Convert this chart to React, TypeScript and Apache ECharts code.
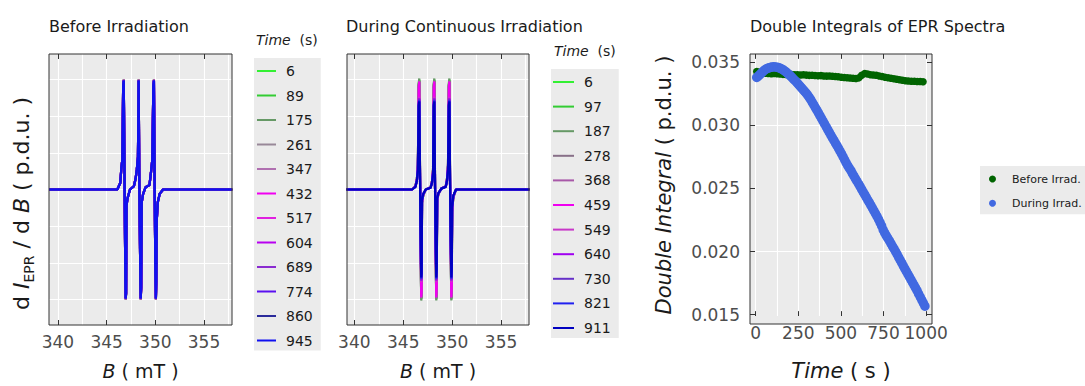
import React, { useEffect, useRef } from 'react';
import * as echarts from 'echarts';

const FONT = 'DejaVu Sans';

// ---------- Panel 1: spectra before irradiation ----------
const beforeTimes = ['6', '89', '175', '261', '347', '432', '517', '604', '689', '774', '860', '945'];
const beforeColors = ['#33F033', '#33CC33', '#669966', '#988898', '#B070B0', '#F000F0', '#E020E0', '#B800F0', '#8A2BD0', '#5A10F0', '#2B2B9B', '#1010F0'];
const beforeAmp = [1.0, 1.0, 1.0, 0.995, 0.995, 1.0, 0.995, 0.99, 0.99, 0.99, 0.99, 0.99];
const beforeB = [339.1, 346.1, 346.4, 346.52, 346.62, 346.7, 346.76, 346.84, 346.9, 346.96, 347.0, 347.04, 347.15, 347.4, 347.8,
  347.98, 348.1, 348.22, 348.29, 348.36, 348.44, 348.5, 348.55, 348.6, 348.75, 349.0, 349.4,
  349.55, 349.7, 349.8, 349.86, 349.93, 350.0, 350.06, 350.1, 350.14, 350.25, 350.45, 350.8, 357.9];
const beforeI = [0, 0, 0.06, 0.2, 0.28, 0.95, 1.0, 0.1, -0.55, -1.0, -0.95, -0.15, -0.08, 0, 0.03,
  0.1, 0.18, 0.3, 1.0, 0.05, -0.6, -1.0, -0.9, -0.12, -0.04, 0.02, 0.04,
  0.15, 0.28, 0.95, 1.0, 0.05, -0.65, -1.0, -0.85, -0.3, -0.12, -0.04, 0, 0];

// ---------- Panel 2: spectra during irradiation ----------
const duringTimes = ['6', '97', '187', '278', '368', '459', '549', '640', '730', '821', '911'];
const duringColors = ['#33F033', '#33CC33', '#669966', '#887088', '#A858A8', '#F000F0', '#C838C8', '#A000F0', '#6630C8', '#2020F0', '#0000C0'];
const duringAmp = [1.0, 0.99, 1.01, 0.99, 0.985, 0.98, 0.84, 0.83, 0.82, 0.81, 0.8];
const duringB = [339.2, 345.9, 346.25, 346.4, 346.5, 346.58, 346.64, 346.72, 346.78, 346.84, 346.88, 346.92, 347.05, 347.3, 347.8,
  347.95, 348.05, 348.12, 348.18, 348.25, 348.32, 348.38, 348.42, 348.47, 348.6, 348.9, 349.35,
  349.48, 349.58, 349.66, 349.72, 349.79, 349.86, 349.92, 349.96, 350.0, 350.12, 350.4, 357.9];
const duringI = [0, 0, 0.03, 0.1, 0.22, 0.95, 1.0, 0.1, -0.55, -1.0, -0.95, -0.12, -0.05, 0, 0.02,
  0.08, 0.18, 0.95, 1.0, 0.05, -0.6, -1.0, -0.9, -0.1, -0.04, 0.01, 0.03,
  0.1, 0.22, 0.95, 1.0, 0.05, -0.6, -1.0, -0.9, -0.2, -0.07, 0, 0];

const fieldTicks = [340, 345, 350, 355];
const fieldGrid = [340, 342.5, 345, 347.5, 350, 352.5, 355, 357.5];
const intensityGrid = [-1, -0.6667, -0.3333, 0, 0.3333, 0.6667, 1];

// ---------- Panel 3: double integrals ----------
const beforeT = [6, 23, 40, 57, 74, 92, 109, 126, 143, 160, 177, 194, 211, 229, 246, 263, 280, 297, 314, 331, 348, 366, 383, 400,
  417, 434, 451, 468, 485, 503, 520, 537, 554, 571, 588, 605, 622, 640, 657, 674, 691, 708, 725, 742, 759, 777, 794, 811,
  828, 845, 862, 879, 896, 914, 931, 948, 965, 982];
const beforeDI = [0.03425, 0.0342, 0.03415, 0.03412, 0.0341, 0.03408, 0.0341, 0.03408, 0.03405, 0.03403, 0.03402, 0.03404,
  0.03402, 0.034, 0.034, 0.03398, 0.034, 0.03397, 0.03395, 0.03396, 0.03394, 0.03392, 0.03393, 0.0339, 0.03389, 0.0339,
  0.03388, 0.03386, 0.03384, 0.0338, 0.03378, 0.03376, 0.03374, 0.03372, 0.0337, 0.03375, 0.03395, 0.0341, 0.03405,
  0.034, 0.03398, 0.03396, 0.0339, 0.03386, 0.0338, 0.03376, 0.03372, 0.03368, 0.03364, 0.0336, 0.03356, 0.03352,
  0.0335, 0.03348, 0.03348, 0.03346, 0.03346, 0.03344];
const duringT = [6, 15, 24, 33, 42, 51, 60, 69, 78, 88, 97, 106, 115, 124, 133, 142, 151, 160, 169, 178, 187, 196, 205, 214,
  223, 233, 242, 251, 260, 269, 278, 287, 296, 305, 314, 323, 332, 341, 350, 359, 368, 377, 386, 395, 404, 414, 423, 432,
  441, 450, 459, 468, 477, 486, 495, 504, 513, 522, 531, 540, 549, 559, 567, 576, 585, 594, 604, 613, 622, 631, 640, 649,
  658, 667, 676, 685, 694, 703, 712, 721, 730, 739, 748, 757, 766, 775, 785, 794, 803, 812, 821, 830, 839, 848, 857, 866,
  875, 884, 893, 902, 911, 920, 929, 938, 947, 956, 966, 975, 984, 993];
const duringDI = [0.03378, 0.03388, 0.034, 0.03413, 0.03425, 0.03436, 0.03445, 0.03451, 0.03455, 0.03459, 0.03462, 0.03463,
  0.03462, 0.0346, 0.03457, 0.03453, 0.03447, 0.0344, 0.03431, 0.03422, 0.03411, 0.034, 0.03389, 0.03377, 0.03364,
  0.03351, 0.03338, 0.03324, 0.0331, 0.03296, 0.03282, 0.03268, 0.03254, 0.03238, 0.03221, 0.03202, 0.03182, 0.03161,
  0.0314, 0.03119, 0.03098, 0.03076, 0.03054, 0.03032, 0.0301, 0.02988, 0.02965, 0.02943, 0.02922, 0.02901, 0.0288,
  0.02859, 0.02838, 0.02817, 0.02795, 0.02773, 0.0275, 0.02726, 0.02702, 0.0268, 0.0266, 0.0264, 0.0262, 0.02599,
  0.02578, 0.02557, 0.02535, 0.02514, 0.02492, 0.02471, 0.0245, 0.02429, 0.02408, 0.02387, 0.02365, 0.02344, 0.02322,
  0.023, 0.02278, 0.02255, 0.0223, 0.02203, 0.02172, 0.02148, 0.02126, 0.02106, 0.02085, 0.02063, 0.02042, 0.02021,
  0.02, 0.01978, 0.01955, 0.01932, 0.0191, 0.01887, 0.01865, 0.01843, 0.01822, 0.018, 0.01778, 0.01757, 0.01735,
  0.01712, 0.0169, 0.01665, 0.0164, 0.01616, 0.01592, 0.01568];

const timeTicks = [0, 250, 500, 750, 1000];
const timeGrid = [0, 125, 250, 375, 500, 625, 750, 875, 1000];
const integralTicks = [0.015, 0.02, 0.025, 0.03, 0.035];
const integralGrid = [0.015, 0.0175, 0.02, 0.0225, 0.025, 0.0275, 0.03, 0.0325, 0.035];

const BG = '#EBEBEB';
const FRAME = '#333333';
const LABEL = '#4D4D4D';
const INK = '#1A1A1A';
const TICK_PX = 5;

const PANELS = [
  { left: 49, top: 54, width: 183, height: 271, x: [339.08, 357.88], y: [-1.232, 1.232] },
  { left: 347, top: 54, width: 182, height: 271, x: [339.25, 357.86], y: [-1.232, 1.232] },
  { left: 750, top: 54, width: 182, height: 270, x: [-33.5, 1034.5], y: [0.0149, 0.03564] },
];

function labelStyle(extra: any = {}) {
  return { show: true, fontSize: 17, color: LABEL, fontFamily: FONT, formatter: (v: number) => String(v), ...extra };
}
function valueAxis(p: number, dim: 'x' | 'y', ticks: number[] | null, extra: any = {}) {
  const P = PANELS[p];
  const r = dim === 'x' ? P.x : P.y;
  return {
    type: 'value', gridIndex: p, position: dim === 'x' ? 'bottom' : 'left', min: r[0], max: r[1],
    axisLine: { show: false }, axisTick: { show: false }, splitLine: { show: false },
    axisLabel: ticks ? labelStyle({ customValues: ticks, ...(extra.axisLabel || {}) }) : { show: false },
    ...(extra.rest || {}),
  };
}

// gridlines and frame ticks are drawn as mark lines through the panel's own axes
function guideSeries(p: number, xGrid: number[], yGrid: number[], xTicks: number[], yTicks: number[]) {
  const P = PANELS[p];
  const dy = (TICK_PX * (P.y[1] - P.y[0])) / P.height;
  const dx = (TICK_PX * (P.x[1] - P.x[0])) / P.width;
  const base = {
    type: 'line', xAxisIndex: p, yAxisIndex: p, silent: true, symbol: 'none', showSymbol: false,
    data: [[P.x[0], P.y[0]]], lineStyle: { opacity: 0 }, legendHoverLink: false, tooltip: { show: false },
  };
  const gridLines = {
    ...base, name: 'grid' + p, z: 1,
    markLine: {
      silent: true, symbol: ['none', 'none'], label: { show: false }, animation: false,
      lineStyle: { color: '#FFFFFF', width: 1.1, type: 'solid' },
      emphasis: { disabled: true },
      data: [...xGrid.map((v) => ({ xAxis: v })), ...yGrid.map((v) => ({ yAxis: v }))],
    },
  };
  const segs: any[] = [];
  xTicks.forEach((v) => {
    segs.push([{ coord: [v, P.y[1]] }, { coord: [v, P.y[1] - dy] }]);
    segs.push([{ coord: [v, P.y[0]] }, { coord: [v, P.y[0] + dy] }]);
  });
  yTicks.forEach((v) => {
    segs.push([{ coord: [P.x[0], v] }, { coord: [P.x[0] + dx, v] }]);
    segs.push([{ coord: [P.x[1], v] }, { coord: [P.x[1] - dx, v] }]);
  });
  const tickLines = {
    ...base, name: 'ticks' + p, z: 4,
    markLine: {
      silent: true, symbol: ['none', 'none'], label: { show: false }, animation: false,
      lineStyle: { color: FRAME, width: 1, type: 'solid' },
      emphasis: { disabled: true },
      data: segs,
    },
  };
  return [gridLines, tickLines];
}

export default function App() {
  const ref = useRef<HTMLDivElement>(null);
  useEffect(() => {
    if (!ref.current) return;
    const chart = echarts.init(ref.current, undefined, { renderer: 'svg' });

    const grids = PANELS.map((g) => ({ left: g.left, top: g.top, width: g.width, height: g.height, show: false, containLabel: false }));

    const fieldName = {
      name: '{i|B}{n| ( mT )}', nameLocation: 'middle', nameGap: 36,
      nameTextStyle: {
        rich: {
          i: { fontSize: 19, lineHeight: 19, fontStyle: 'italic', fontFamily: FONT, color: INK },
          n: { fontSize: 19, lineHeight: 19, fontFamily: FONT, color: INK },
        },
      },
    };

    const xAxis: any[] = [
      valueAxis(0, 'x', fieldTicks, { rest: fieldName }),
      valueAxis(1, 'x', fieldTicks, { rest: fieldName }),
      valueAxis(2, 'x', timeTicks, {
        rest: {
          name: '{i|Time}{n| ( s )}', nameLocation: 'middle', nameGap: 44,
          nameTextStyle: {
            rich: {
              i: { fontSize: 21, lineHeight: 21, fontStyle: 'italic', fontFamily: FONT, color: INK },
              n: { fontSize: 21, lineHeight: 21, fontFamily: FONT, color: INK },
            },
          },
        },
      }),
    ];

    const yAxis: any[] = [
      valueAxis(0, 'y', null, {
        rest: {
          name: '{n|d }{i|I}{sub|EPR}{n| / d }{i|B}{n| ( p.d.u. )    }',
          nameLocation: 'middle', nameGap: 13,
          nameTextStyle: {
            rich: {
              n: { fontSize: 22, lineHeight: 30, fontFamily: FONT, color: INK },
              i: { fontSize: 22, lineHeight: 30, fontStyle: 'italic', fontFamily: FONT, color: INK },
              sub: { fontSize: 14, lineHeight: 14, verticalAlign: 'bottom', fontFamily: FONT, color: INK },
            },
          },
        },
      }),
      valueAxis(1, 'y', null),
      valueAxis(2, 'y', integralTicks, {
        axisLabel: { margin: 10, formatter: (v: number) => v.toFixed(3) },
        rest: {
          name: '{i|Double Integral}{n| ( p.d.u. )}', nameLocation: 'middle', nameGap: 76,
          nameTextStyle: {
            rich: {
              i: { fontSize: 21, lineHeight: 21, fontStyle: 'italic', fontFamily: FONT, color: INK },
              n: { fontSize: 21, lineHeight: 21, fontFamily: FONT, color: INK },
            },
          },
        },
      }),
    ];

    const series: any[] = [
      ...guideSeries(0, fieldGrid, intensityGrid, fieldTicks, []),
      ...guideSeries(1, fieldGrid, intensityGrid, fieldTicks, []),
      ...guideSeries(2, timeGrid, integralGrid, timeTicks, integralTicks),
    ];
    beforeTimes.forEach((t, k) => {
      series.push({
        type: 'line', name: 'b' + t, xAxisIndex: 0, yAxisIndex: 0, z: 10,
        data: beforeB.map((b, j) => [b, beforeI[j] * beforeAmp[k]]),
        showSymbol: false, symbol: 'none', silent: true,
        lineStyle: { color: beforeColors[k], width: 2.2 }, itemStyle: { color: beforeColors[k] },
      });
    });
    duringTimes.forEach((t, k) => {
      series.push({
        type: 'line', name: 'd' + t, xAxisIndex: 1, yAxisIndex: 1, z: 10,
        data: duringB.map((b, j) => [b, duringI[j] * duringAmp[k]]),
        showSymbol: false, symbol: 'none', silent: true,
        lineStyle: { color: duringColors[k], width: 2.2 }, itemStyle: { color: duringColors[k] },
      });
    });
    series.push({
      type: 'scatter', name: 'Before Irrad.', xAxisIndex: 2, yAxisIndex: 2, z: 10,
      data: beforeT.map((t, j) => [t, beforeDI[j]]), symbolSize: 7.5, itemStyle: { color: '#006400', opacity: 1 },
    });
    series.push({
      type: 'scatter', name: 'During Irrad.', xAxisIndex: 2, yAxisIndex: 2, z: 10,
      data: duringT.map((t, j) => [t, duringDI[j]]), symbolSize: 9.5, itemStyle: { color: '#4169E1', opacity: 1 },
    });

    const legendBase = {
      orient: 'vertical', icon: 'rect', itemHeight: 2, selectedMode: false, backgroundColor: BG,
      formatter: (n: string) => n.slice(1),
      textStyle: { fontSize: 14, lineHeight: 14, color: INK, fontFamily: FONT, padding: [0, 0, 0, 5] },
    };
    const legendTitleStyle = {
      fontSize: 14, lineHeight: 14, fontWeight: 'normal', color: INK, fontFamily: FONT,
      rich: { i: { fontSize: 14, lineHeight: 14, fontStyle: 'italic', color: INK, fontFamily: FONT } },
    };
    const titleStyle = { fontSize: 16, lineHeight: 16, fontWeight: 'normal', color: INK, fontFamily: FONT };

    const option: any = {
      animation: false,
      backgroundColor: '#FFFFFF',
      textStyle: { fontFamily: FONT },
      grid: grids,
      xAxis, yAxis, series,
      graphic: [
        ...PANELS.map((g) => ({
          type: 'rect', silent: true, z: -100,
          shape: { x: g.left, y: g.top, width: g.width, height: g.height },
          style: { fill: BG, stroke: 'none' },
        })),
        ...PANELS.map((g) => ({
          type: 'rect', silent: true, z: 50,
          shape: { x: g.left, y: g.top, width: g.width, height: g.height },
          style: { fill: 'none', stroke: FRAME, lineWidth: 1 },
        })),
      ],
      title: [
        { text: 'Before Irradiation', left: 49, top: 18, padding: 0, textStyle: titleStyle },
        { text: 'During Continuous Irradiation', left: 346, top: 18, padding: 0, textStyle: titleStyle },
        { text: 'Double Integrals of EPR Spectra', left: 750, top: 18, padding: 0, textStyle: titleStyle },
        { text: '{i|Time}  (s)', left: 256, top: 33, padding: 0, textStyle: legendTitleStyle },
        { text: '{i|Time}  (s)', left: 554, top: 44, padding: 0, textStyle: legendTitleStyle },
      ],
      legend: [
        { ...legendBase, data: beforeTimes.map((t) => 'b' + t), left: 254, top: 58, padding: [6, 8, 3, 3], itemWidth: 19, itemGap: 10.5 },
        { ...legendBase, data: duringTimes.map((t) => 'd' + t), left: 551, top: 69, padding: [6, 8, 3, 2], itemWidth: 21, itemGap: 10.6 },
        {
          orient: 'vertical', icon: 'circle', itemWidth: 7, itemHeight: 7, selectedMode: false, backgroundColor: BG,
          data: ['Before Irrad.', 'During Irrad.'], left: 980, top: 166, padding: [7, 20, 5, 9], itemGap: 12.3,
          textStyle: { fontSize: 11, lineHeight: 12, color: INK, fontFamily: FONT, padding: [0, 0, 0, 11] },
        },
      ],
    };
    chart.setOption(option);
    return () => chart.dispose();
  }, []);
  return <div ref={ref} style={{ position: 'absolute', left: 0, top: 0, width: 1085, height: 386 }} />;
}
